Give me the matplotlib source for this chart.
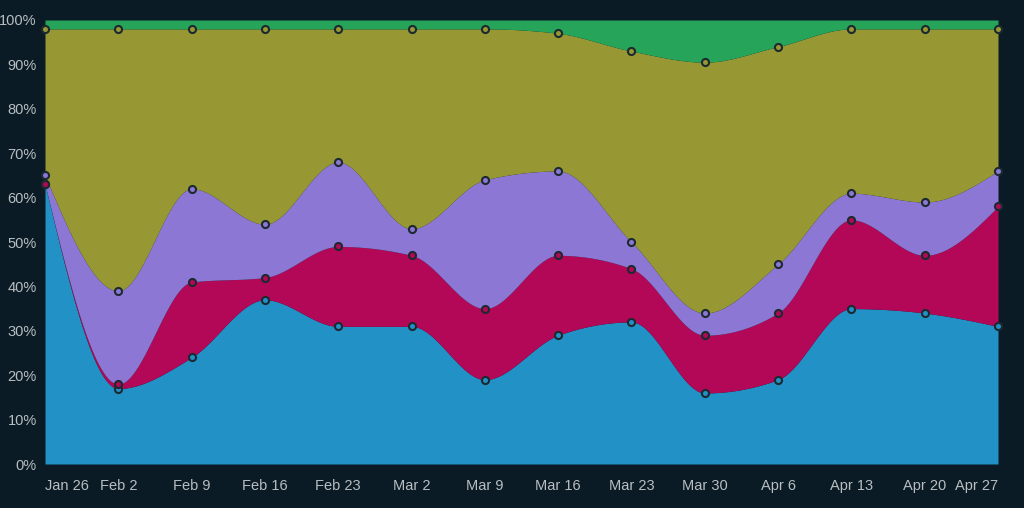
import numpy as np
import matplotlib.pyplot as plt
from matplotlib.ticker import PercentFormatter

plt.rcParams['font.family'] = ['Liberation Sans', 'DejaVu Sans']

# weekly share (%) of each series, bottom to top
dates = ['Jan 26', 'Feb 2', 'Feb 9', 'Feb 16', 'Feb 23', 'Mar 2', 'Mar 9',
         'Mar 16', 'Mar 23', 'Mar 30', 'Apr 6', 'Apr 13', 'Apr 20', 'Apr 27']
blue = [63, 17, 24, 37, 31, 31, 19, 29, 32, 16, 19, 35, 34, 31]
red = [0, 1, 17, 5, 18, 16, 16, 18, 12, 13, 15, 20, 13, 27]
purple = [2, 21, 21, 12, 19, 6, 29, 19, 6, 5, 11, 6, 12, 8]
olive = [33, 59, 36, 44, 30, 45, 34, 31, 43, 56.5, 49, 37, 39, 32]
green = [2, 2, 2, 2, 2, 2, 2, 3, 7, 9.5, 6, 2, 2, 2]

series = [blue, red, purple, olive, green]
colors = ['#2191c6', '#b30858', '#8c78d4', '#979834', '#25a45a']
bg = '#0b1b25'


def monotone(x, y, n=30):
    # d3 curveMonotoneX style interpolation
    x = np.asarray(x, float)
    y = np.asarray(y, float)
    h = np.diff(x)
    s = np.diff(y) / h
    t = np.zeros(len(x))
    for i in range(1, len(x) - 1):
        p = (s[i - 1] * h[i] + s[i] * h[i - 1]) / (h[i - 1] + h[i])
        t[i] = (np.sign(s[i - 1]) + np.sign(s[i])) * min(abs(s[i - 1]), abs(s[i]), 0.5 * abs(p))
    t[0] = (3 * s[0] - t[1]) / 2
    t[-1] = (3 * s[-1] - t[-2]) / 2
    xs, ys = [], []
    for i in range(len(x) - 1):
        u = np.linspace(0, 1, n, endpoint=(i == len(x) - 2))
        h00 = 2 * u**3 - 3 * u**2 + 1
        h10 = u**3 - 2 * u**2 + u
        h01 = -2 * u**3 + 3 * u**2
        h11 = u**3 - u**2
        xs.append(x[i] + u * h[i])
        ys.append(h00 * y[i] + h10 * h[i] * t[i] + h01 * y[i + 1] + h11 * h[i] * t[i + 1])
    return np.concatenate(xs), np.concatenate(ys)


x = np.arange(len(dates))
vals = np.array(series, float)
vals = vals / vals.sum(axis=0) * 100
cum = np.cumsum(vals, axis=0)

fig = plt.figure(figsize=(10.24, 5.08), dpi=100, facecolor=bg)
ax = fig.add_axes([45 / 1024, 1 - 464 / 508, 953 / 1024, 444 / 508])
ax.set_facecolor(bg)

lower_x, lower_y = monotone(x, np.zeros(len(x)))
for i in range(len(series)):
    xs, ys = monotone(x, cum[i])
    ax.fill_between(xs, lower_y, ys, color=colors[i], lw=0, zorder=2 + i * 0.01)
    lower_y = ys

for i in range(4):
    ax.scatter(x, cum[i], s=26, facecolor=colors[i], edgecolor='#1c2a30',
               linewidth=1.5, zorder=5, clip_on=False)

ax.set_xlim(0, len(x) - 1)
ax.set_ylim(0, 100)
ax.set_yticks(np.arange(0, 101, 10))
ax.yaxis.set_major_formatter(PercentFormatter(decimals=0))
ax.set_xticks(x)
ax.set_xticklabels(dates)
labels = ax.get_xticklabels()
labels[0].set_horizontalalignment('left')
labels[-1].set_horizontalalignment('right')
ax.tick_params(length=0, colors='#b8bec1', labelsize=10.5)
ax.tick_params(axis='x', pad=11)
ax.tick_params(axis='y', pad=6)
for sp in ax.spines.values():
    sp.set_visible(False)

plt.savefig('out.png', dpi=100, facecolor=bg)
